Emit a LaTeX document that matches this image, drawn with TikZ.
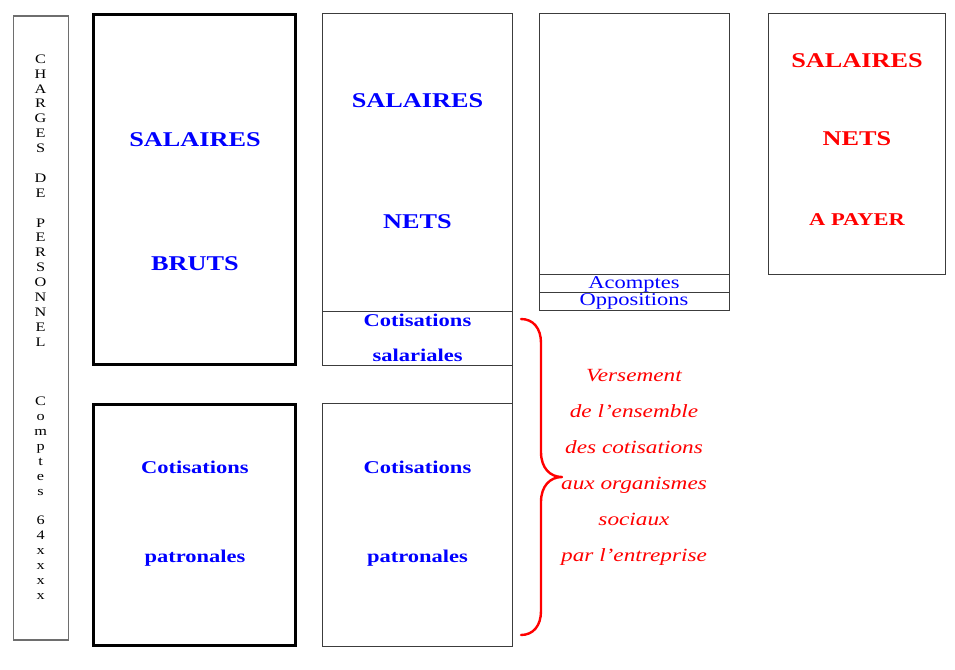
\documentclass[tikz,border=0pt]{standalone}
\usepackage{fontspec}
\newfontfamily\tms{Liberation Serif}[FakeStretch=1.25]
\definecolor{pblue}{RGB}{0,0,255}
\definecolor{pred}{RGB}{255,0,0}
\definecolor{edge}{RGB}{60,60,60}
\definecolor{colgray}{RGB}{110,110,110}
\begin{document}
\begin{tikzpicture}[x=1pt,y=-1pt,
  thinbox/.style={draw=edge, line width=0.9pt, inner sep=0pt, outer sep=0pt, anchor=north west},
  thickbox/.style={draw=black, line width=3.4pt, inner sep=0pt, outer sep=0pt, anchor=north west},
  colbox/.style={draw=colgray, line width=1.4pt, inner sep=0pt, outer sep=0pt, anchor=north west},
  bigb/.style={font=\tms\bfseries\fontsize{21}{21}\selectfont, pblue, anchor=base, inner sep=0pt},
  midb/.style={font=\tms\bfseries\fontsize{18}{18}\selectfont, pblue, anchor=base, inner sep=0pt},
  bigr/.style={font=\tms\bfseries\fontsize{21}{21}\selectfont, pred, anchor=base, inner sep=0pt},
  midr/.style={font=\tms\bfseries\fontsize{18}{18}\selectfont, pred, anchor=base, inner sep=0pt},
  regb/.style={font=\tms\fontsize{18}{18}\selectfont, pblue, anchor=base, inner sep=0pt},
  itr/.style={font=\tms\itshape\fontsize{18.6}{18.6}\selectfont, pred, anchor=base, inner sep=0pt},
  vlet/.style={font=\tms\fontsize{13}{13}\selectfont, black, anchor=base, inner sep=0pt},
  bracestyle/.style={draw=pred, line width=2.4pt, line cap=round, line join=round}
]
\useasboundingbox (0,0) rectangle (955,669);

% left column
\node[colbox, minimum width=55pt, minimum height=624pt] (col) at (13.2,16) {};
\foreach \ch [count=\i] in {C,H,A,R,G,E,S,{},D,E,{},P,E,R,S,O,N,N,E,L,{},{},{},C,o,m,p,t,e,s,{},6,4,x,x,x,x}
  \node[vlet] (v\i) at (40.6, 63.3+\i*14.89-14.89) {\ch};

% salaires bruts / cotisations patronales (thick)
\node[thickbox, minimum width=201.8pt, minimum height=349.6pt] (brut) at (93.7,14.7) {};
\node[bigb] (t1) at (195,146) {SALAIRES};
\node[bigb] (t2) at (195,270) {BRUTS};
\node[thickbox, minimum width=201.8pt, minimum height=241.4pt] (patr1) at (93.7,404.3) {};
\node[midb] (t3) at (195,473) {Cotisations};
\node[midb] (t4) at (195,562) {patronales};

% column 3
\node[thinbox, minimum width=190pt, minimum height=298pt] (nets) at (322.3,13) {};
\node[bigb] (t5) at (417.5,107) {SALAIRES};
\node[bigb] (t6) at (417.5,228) {NETS};
\node[thinbox, minimum width=190pt, minimum height=54.3pt] (sal) at (322.3,311) {};
\node[midb] (t7) at (417.5,326) {Cotisations};
\node[midb] (t8) at (417.5,361) {salariales};
\node[thinbox, minimum width=190pt, minimum height=243pt] (patr2) at (322.3,403) {};
\node[midb] (t9) at (417.5,473) {Cotisations};
\node[midb] (t10) at (417.5,562) {patronales};
\draw[draw=edge, line width=0.9pt] (sal.south east) -- (patr2.north east);

% column 4
\node[thinbox, minimum width=190pt, minimum height=261.3pt] (c4) at (539,13) {};
\node[thinbox, minimum width=190pt, minimum height=18pt] (acp) at (539,274.3) {};
\node[thinbox, minimum width=190pt, minimum height=18.4pt] (opp) at (539,292.3) {};
\node[regb] (t11) at (634,288.3) {Acomptes};
\node[regb] (t12) at (634,305) {Oppositions};

% column 5
\node[thinbox, minimum width=176.3pt, minimum height=260.7pt] (c5) at (768.7,13.3) {};
\node[bigr] (t13) at (857,67.7) {SALAIRES};
\node[bigr] (t14) at (857,145) {NETS};
\node[midr] (t15) at (857,225) {A PAYER};

% brace
\coordinate (bt) at (521,319);
\coordinate (bm) at (562,477);
\coordinate (bb) at (521,635);
\draw[bracestyle] (bt) .. controls (533,319) and (541,328) .. (541,343) -- (541,452)
  .. controls (541,468) and (550,477) .. (bm)
  .. controls (550,477) and (541,486) .. (541,502) -- (541,611)
  .. controls (541,626) and (533,635) .. (bb);

% italic text
\foreach \ln [count=\i] in {Versement,de l’ensemble,des cotisations,aux organismes,sociaux,par l’entreprise}
  \node[itr] (r\i) at (634, 381+\i*36.14-36.14) {\ln};
\end{tikzpicture}
\end{document}
